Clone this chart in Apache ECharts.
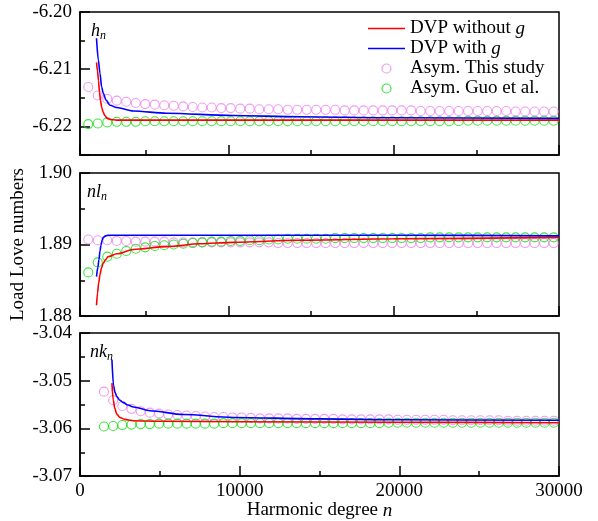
<!DOCTYPE html>
<html>
<head>
<meta charset="utf-8">
<script src="https://cdn.jsdelivr.net/npm/echarts@6/dist/echarts.min.js"></script>
<style>
html,body{margin:0;padding:0;background:#fff;}
#chart{width:598px;height:521px;}
</style>
</head>
<body>
<div id="chart"></div>
<script>
// ---------- DATA ----------
const legendNames = ['DVP without g', 'DVP with g', 'Asym. This study', 'Asym. Guo et al.'];
const panelLabels = ['h', 'nl', 'nk'];
const xTickLabels = ['0', '10000', '20000', '30000'];

// harmonic degrees of the asymptotic (circle) points
const nCircle = [1500, 2075, 2650, 3225, 3800, 4375, 4950, 5525, 6100, 6675,
  7250, 7825, 8400, 8975, 9550, 10125, 10700, 11275, 11850, 12425,
  13000, 13575, 14150, 14725, 15300, 15875, 16450, 17025, 17600, 18175,
  18750, 19325, 19900, 20475, 21050, 21625, 22200, 22775, 23350, 23925,
  24500, 25075, 25650, 26225, 26800, 27375, 27950, 28525, 29100, 29675];

// h_n panel
const hPink = [-6.2131, -6.2146, -6.2152, -6.2155, -6.2157, -6.2159, -6.2161, -6.2162, -6.2163, -6.2164,
  -6.2165, -6.2166, -6.2167, -6.2167, -6.2168, -6.2168, -6.2169, -6.2169, -6.2170, -6.2170,
  -6.2170, -6.2171, -6.2171, -6.2171, -6.2171, -6.2171, -6.2171, -6.2172, -6.2172, -6.2172,
  -6.2172, -6.2172, -6.2172, -6.2172, -6.2172, -6.2173, -6.2173, -6.2173, -6.2173, -6.2173,
  -6.2173, -6.2173, -6.2173, -6.2173, -6.2173, -6.2174, -6.2174, -6.2174, -6.2174, -6.2174];
const hGreen = [-6.2196, -6.2195, -6.2193, -6.2192, -6.2192, -6.2192, -6.2191, -6.2191, -6.2191, -6.2191,
  -6.2191, -6.2191, -6.2191, -6.2191, -6.2191, -6.2191, -6.2191, -6.2191, -6.2191, -6.2191,
  -6.2191, -6.2191, -6.2191, -6.2191, -6.2191, -6.2191, -6.2191, -6.2191, -6.2191, -6.2191,
  -6.2191, -6.2191, -6.2191, -6.2191, -6.2191, -6.2191, -6.2191, -6.2191, -6.2191, -6.2191,
  -6.2190, -6.2190, -6.2190, -6.2190, -6.2190, -6.2190, -6.2190, -6.2190, -6.2190, -6.2190];
const hRedN = [2000, 2060, 2120, 2180, 2240, 2320, 2400, 2500, 2650, 2850, 3200, 5000, 10000, 20000, 30000];
const hRedV = [-6.2088, -6.2103, -6.2120, -6.2140, -6.2155, -6.2167, -6.2175, -6.2181, -6.2186, -6.2188, -6.2189, -6.2189, -6.2189, -6.2189, -6.2189];
const hBlueN = [2000, 2110, 2210, 2310, 2410, 2575, 2815, 3220, 4230, 6250, 10260, 14320, 20000, 30000];
const hBlueV = [-6.2046, -6.2084, -6.2107, -6.2131, -6.2142, -6.2154, -6.2163, -6.2167, -6.2173, -6.2177, -6.2181, -6.2183, -6.2185, -6.2186];

// nl_n panel
const lPink = [1.8907, 1.8906, 1.8906, 1.8905, 1.8905, 1.8904, 1.8904, 1.8904, 1.8904, 1.8903,
  1.8903, 1.8903, 1.8903, 1.8903, 1.8903, 1.8903, 1.8903, 1.8903, 1.8903, 1.8903,
  1.8902, 1.8902, 1.8902, 1.8902, 1.8902, 1.8902, 1.8902, 1.8902, 1.8902, 1.8902,
  1.8902, 1.8902, 1.8902, 1.8902, 1.8902, 1.8902, 1.8902, 1.8902, 1.8902, 1.8902,
  1.8902, 1.8902, 1.8902, 1.8902, 1.8902, 1.8902, 1.8902, 1.8902, 1.8902, 1.8902];
const lGreen = [1.8861, 1.8875, 1.8883, 1.8887, 1.8891, 1.8894, 1.8896, 1.8898, 1.8899, 1.8900,
  1.8901, 1.8902, 1.8903, 1.8904, 1.8904, 1.8905, 1.8905, 1.8906, 1.8906, 1.8907,
  1.8907, 1.8908, 1.8908, 1.8908, 1.8908, 1.8908, 1.8909, 1.8909, 1.8909, 1.8909,
  1.8909, 1.8909, 1.8909, 1.8909, 1.8909, 1.8909, 1.8910, 1.8910, 1.8910, 1.8910,
  1.8910, 1.8910, 1.8910, 1.8910, 1.8910, 1.8910, 1.8910, 1.8910, 1.8910, 1.8910];
const lRedN = [2000, 2060, 2130, 2210, 2300, 2410, 2550, 2710, 3220, 4230, 6250, 8265, 10260, 14320, 20000, 30000];
const lRedV = [1.8815, 1.8832, 1.8846, 1.8858, 1.8867, 1.8874, 1.8879, 1.8883, 1.8887, 1.8893, 1.8897, 1.8901, 1.8903, 1.8906, 1.8908, 1.8910];
const lBlueN = [2000, 2080, 2150, 2210, 2270, 2340, 2410, 2550, 2710, 3500, 10000, 20000, 30000];
const lBlueV = [1.8855, 1.8868, 1.8879, 1.8891, 1.8899, 1.8906, 1.8910, 1.8912, 1.8913, 1.8913, 1.8913, 1.8913, 1.8912];

// nk_n panel
const kPink = [-3.0523, -3.0541, -3.0553, -3.0559, -3.0564, -3.0567, -3.0569, -3.0571, -3.0572, -3.0573,
  -3.0574, -3.0575, -3.0576, -3.0576, -3.0577, -3.0577, -3.0578, -3.0579, -3.0579, -3.0579,
  -3.0579, -3.0580, -3.0580, -3.0580, -3.0580, -3.0580, -3.0581, -3.0581, -3.0581, -3.0581,
  -3.0581, -3.0581, -3.0582, -3.0582, -3.0582, -3.0582, -3.0582, -3.0582, -3.0583, -3.0583,
  -3.0583, -3.0583, -3.0583, -3.0583, -3.0584, -3.0584, -3.0584, -3.0584, -3.0584, -3.0584];
const kGreen = [-3.0596, -3.0595, -3.0593, -3.0592, -3.0591, -3.0591, -3.0590, -3.0590, -3.0590, -3.0590,
  -3.0590, -3.0590, -3.0590, -3.0589, -3.0589, -3.0589, -3.0589, -3.0589, -3.0589, -3.0589,
  -3.0589, -3.0589, -3.0589, -3.0589, -3.0589, -3.0589, -3.0589, -3.0589, -3.0589, -3.0589,
  -3.0589, -3.0588, -3.0588, -3.0588, -3.0588, -3.0588, -3.0588, -3.0588, -3.0588, -3.0588,
  -3.0588, -3.0588, -3.0588, -3.0588, -3.0588, -3.0588, -3.0588, -3.0588, -3.0588, -3.0588];
const kRedN = [2000, 2080, 2180, 2300, 2500, 2800, 3300, 5000, 10000, 20000, 30000];
const kRedV = [-3.0505, -3.0540, -3.0558, -3.0570, -3.0577, -3.0581, -3.0584, -3.0585, -3.0586, -3.0587, -3.0588];
const kBlueN = [2000, 2100, 2200, 2300, 2500, 2710, 3000, 3340, 4380, 6470, 9600, 15000, 20000, 30000];
const kBlueV = [-3.0456, -3.0510, -3.0525, -3.0533, -3.0541, -3.0546, -3.0551, -3.0555, -3.0563, -3.0571, -3.0577, -3.0580, -3.0582, -3.0583];

// ---------- STYLE ----------
const FONT = 'Liberation Serif';
const RED = '#ff0000', BLUE = '#0000ff', PINK = '#ee82ee', GREEN = '#11dd11';
const zip = (xs, ys) => xs.map((x, i) => [x, ys[i]]);

const grids = [
  {left: 80, top: 12, width: 479, height: 143},
  {left: 80, top: 173, width: 479, height: 143},
  {left: 80, top: 333, width: 479, height: 144}
].map(g => Object.assign({show: true, borderColor: '#000', borderWidth: 1.5, backgroundColor: 'transparent'}, g));

const lineSt = {color: '#000', width: 1.5};
const labelSt = {fontFamily: FONT, fontSize: 19, color: '#000', fontWeight: 'normal'};

function yAxis(gi, min, max, extra) {
  return Object.assign({
    type: 'value', gridIndex: gi, min: min, max: max, position: 'left',
    axisLine: {show: true, lineStyle: lineSt},
    axisTick: {show: true, inside: true, length: 10, lineStyle: lineSt},
    minorTick: {show: true, splitNumber: 2, length: 5, lineStyle: lineSt},
    splitLine: {show: false}, minorSplitLine: {show: false},
    axisLabel: Object.assign({margin: 8, formatter: v => v.toFixed(2)}, labelSt)
  }, extra || {});
}
function xAxisMain(gi, min, extra) {
  return Object.assign({
    type: 'value', gridIndex: gi, min: min, max: 30000, position: 'bottom',
    axisLine: {show: true, lineStyle: lineSt},
    axisTick: {show: true, inside: true, length: 10, lineStyle: lineSt},
    splitLine: {show: false}, minorSplitLine: {show: false},
    axisLabel: {show: false}
  }, extra || {});
}
function xAxisMinor(gi) {
  return {
    type: 'value', gridIndex: gi, min: 1000, max: 30000, splitNumber: 6, position: 'bottom',
    axisLine: {show: false},
    axisTick: {show: true, inside: true, length: 5, lineStyle: lineSt},
    splitLine: {show: false}, axisLabel: {show: false}
  };
}

const xAxes = [
  xAxisMain(0, 1000, {splitNumber: 3}),
  xAxisMain(1, 1000, {splitNumber: 3}),
  xAxisMain(2, 0, {
    interval: 10000,
    minorTick: {show: true, splitNumber: 2, length: 5, lineStyle: lineSt},
    axisLabel: Object.assign({show: true, margin: 5,
      formatter: v => xTickLabels[Math.round(v / 10000)] || ''}, labelSt),
    name: 'Harmonic degree {i|n}', nameLocation: 'middle', nameGap: 21,
    nameTextStyle: Object.assign({rich: {i: {fontFamily: FONT, fontSize: 19, fontStyle: 'italic', color: '#000'}}}, labelSt)
  }),
  xAxisMinor(0),
  xAxisMinor(1)
];

const yAxes = [
  yAxis(0, -6.225, -6.20, {splitNumber: 2, axisLabel: Object.assign({margin: 8, showMinLabel: false, formatter: v => v.toFixed(2)}, labelSt)}),
  yAxis(1, 1.88, 1.90, {interval: 0.01,
    name: 'Load Love numbers', nameLocation: 'middle', nameGap: 44, nameRotate: 90,
    nameTextStyle: labelSt}),
  yAxis(2, -3.07, -3.04, {interval: 0.01})
];

function scatter(name, gi, vals, color) {
  return {
    type: 'scatter', name: name, xAxisIndex: gi, yAxisIndex: gi,
    data: zip(nCircle, vals), symbol: 'circle', symbolSize: 9,
    itemStyle: {color: 'rgba(255,255,255,0)', borderColor: color, borderWidth: 1.1},
    emphasis: {disabled: true}, animation: false
  };
}
function curve(name, gi, ns, vs, color) {
  return {
    type: 'line', name: name, xAxisIndex: gi, yAxisIndex: gi,
    data: zip(ns, vs), symbol: 'none', showSymbol: false, smooth: 0.3, smoothMonotone: 'x',
    lineStyle: {color: color, width: 1.6}, itemStyle: {color: color},
    emphasis: {disabled: true}, animation: false
  };
}

const series = [
  scatter(legendNames[2], 0, hPink, PINK), scatter(legendNames[3], 0, hGreen, GREEN),
  curve(legendNames[0], 0, hRedN, hRedV, RED), curve(legendNames[1], 0, hBlueN, hBlueV, BLUE),
  scatter(legendNames[2], 1, lPink, PINK), scatter(legendNames[3], 1, lGreen, GREEN),
  curve(legendNames[0], 1, lRedN, lRedV, RED), curve(legendNames[1], 1, lBlueN, lBlueV, BLUE),
  scatter(legendNames[2], 2, kPink, PINK), scatter(legendNames[3], 2, kGreen, GREEN),
  curve(legendNames[0], 2, kRedN, kRedV, RED), curve(legendNames[1], 2, kBlueN, kBlueV, BLUE)
];

const labelRich = {
  a: {fontFamily: FONT, fontSize: 18, fontStyle: 'italic', fontWeight: 'normal', color: '#000'},
  b: {fontFamily: FONT, fontSize: 12, fontStyle: 'italic', fontWeight: 'normal', color: '#000', padding: [10, 0, 0, 0]}
};
const titles = [
  {left: 91, top: 20}, {left: 87, top: 181}, {left: 90, top: 341}
].map((p, i) => ({
  text: '{a|' + panelLabels[i] + '}{b|n}', left: p.left, top: p.top, padding: 0,
  textStyle: {fontWeight: 'normal', rich: labelRich}
}));

const lineIcon = 'path://M0,0H50V2H0Z';

const option = {
  animation: false,
  backgroundColor: '#fff',
  title: titles,
  grid: grids,
  xAxis: xAxes,
  yAxis: yAxes,
  legend: {
    orient: 'vertical', left: 368, top: 19, itemWidth: 37, itemHeight: 9, itemGap: 1, padding: 0,
    selectedMode: false,
    data: [
      {name: legendNames[0], icon: lineIcon, itemStyle: {color: RED, borderWidth: 0}},
      {name: legendNames[1], icon: lineIcon, itemStyle: {color: BLUE, borderWidth: 0}},
      {name: legendNames[2], icon: 'circle', itemStyle: {color: 'rgba(255,255,255,0)', borderColor: PINK, borderWidth: 1.2}},
      {name: legendNames[3], icon: 'circle', itemStyle: {color: 'rgba(255,255,255,0)', borderColor: GREEN, borderWidth: 1.2}}
    ],
    formatter: n => n.endsWith(' g') ? n.slice(0, -1) + '{i|g}' : n,
    textStyle: Object.assign({lineHeight: 19,
      rich: {i: {fontFamily: FONT, fontSize: 19, fontStyle: 'italic', color: '#000', lineHeight: 19}}}, labelSt)
  },
  series: series
};

const chart = echarts.init(document.getElementById('chart'), null, {renderer: 'canvas'});
chart.setOption(option);
</script>
</body>
</html>
